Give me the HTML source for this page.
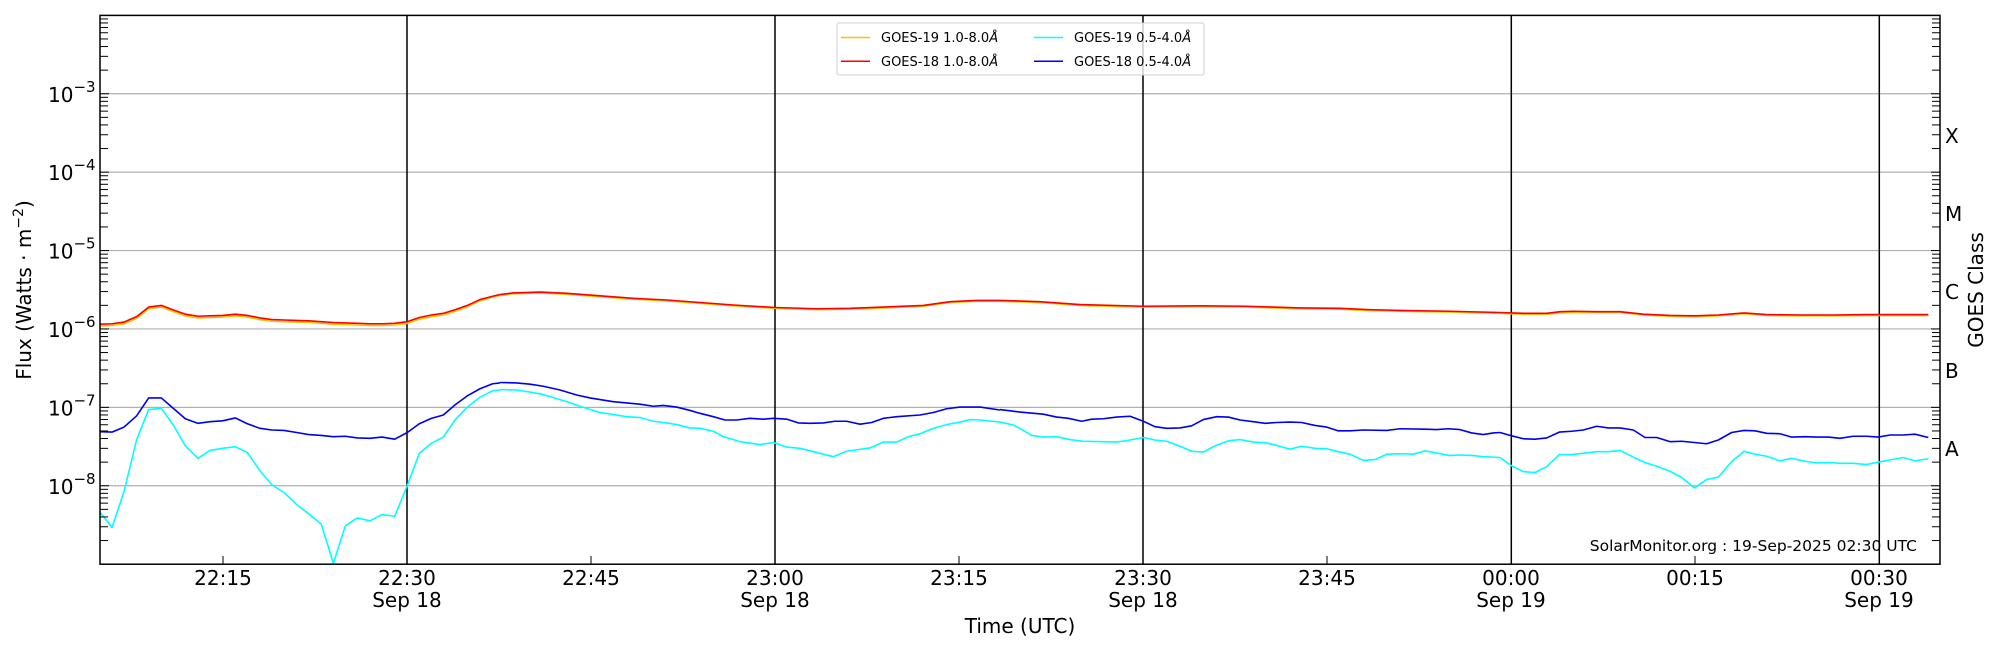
<!DOCTYPE html>
<html><head><meta charset="utf-8"><style>
html,body{margin:0;padding:0;background:#fff;width:2000px;height:650px;overflow:hidden}
svg text{font-family:"DejaVu Sans","Liberation Sans",sans-serif}
</style></head><body>
<svg width="2000" height="650" xmlns="http://www.w3.org/2000/svg">
<rect width="2000" height="650" fill="#fff"/>
<g id="grid" stroke="#b0b0b0" stroke-width="1.2"></g>
<g stroke="#000" stroke-width="1.5">
<line x1="407" y1="15.4" x2="407" y2="564.2"/>
<line x1="775" y1="15.4" x2="775" y2="564.2"/>
<line x1="1143" y1="15.4" x2="1143" y2="564.2"/>
<line x1="1511.3" y1="15.4" x2="1511.3" y2="564.2"/>
<line x1="1879.3" y1="15.4" x2="1879.3" y2="564.2"/>
</g>
<g fill="none" stroke-width="1.6" stroke-linejoin="round">
<g transform="translate(0,0) scale(0.33333,0.41667)">
<polyline vector-effect="non-scaling-stroke" stroke="#ffc000" points="300 782,336 781,372 777,410 764,446 741,484 737,520 748,556 758,594 763,630 762,668 761,706 758,742 761,780 767,816 771,852 772,890 773,926 774,964 776,1000 778,1036 779,1072 780,1110 781,1146 781,1184 780,1222 776,1258 766,1294 760,1330 756,1366 747,1402 736,1440 722,1478 713,1500 709"/>
<polyline vector-effect="non-scaling-stroke" stroke="#ff0000" points="300 778,336 777,372 773,410 760,446 737,484 733,520 744,556 754,594 759,630 758,668 757,706 754,742 757,780 763,816 767,852 768,890 769,926 770,964 772,1000 774,1036 775,1072 776,1110 777,1146 777,1184 776,1222 772,1258 762,1294 756,1330 752,1366 743,1402 733,1440 719,1478 711,1500 707"/>
<polyline vector-effect="non-scaling-stroke" stroke="#00ffff" points="300 1229,336 1266,372 1180,410 1055,446 983,484 980,520 1020,556 1070,594 1100,630 1081,668 1076,706 1072,742 1086,780 1130,816 1164,852 1182,890 1211,926 1233,964 1258,1000 1352,1036 1262,1072 1243,1110 1250,1146 1235,1184 1239,1222 1165,1258 1088,1294 1064,1330 1049,1366 1007,1402 977,1440 953,1478 938,1500 936"/>
<polyline vector-effect="non-scaling-stroke" stroke="#0000ee" points="300 1036,336 1037,372 1025,410 998,446 955,484 955,520 980,556 1005,594 1016,630 1012,668 1010,706 1003,742 1017,780 1028,816 1032,852 1033,890 1038,926 1043,964 1045,1000 1048,1036 1047,1072 1051,1110 1052,1146 1049,1184 1054,1222 1038,1258 1017,1294 1004,1330 996,1366 971,1402 950,1440 933,1478 921,1500 919"/>
</g>
<g transform="translate(500,0) scale(0.33333,0.41667)">
<polyline vector-effect="non-scaling-stroke" stroke="#ffc000" points="0 709,40 705,120 703,200 706,300 712,400 718,500 722,600 728,700 734,826 740,950 743,1050 742,1150 739,1270 735,1350 726,1430 723,1500 723"/>
<polyline vector-effect="non-scaling-stroke" stroke="#ff0000" points="0 707,40 703,120 701,200 704,300 710,400 716,500 720,600 726,700 732,826 738,950 741,1050 740,1150 737,1270 733,1350 724,1430 721,1500 721"/>
<polyline vector-effect="non-scaling-stroke" stroke="#00ffff" points="0 935,50 936,90 941,130 947,200 964,240 975,300 990,340 995,380 1000,420 1002,460 1011,500 1015,530 1019,570 1027,600 1028,640 1035,670 1048,720 1060,780 1067,820 1062,860 1073,900 1076,1000 1096,1040 1083,1110 1075,1150 1061,1190 1061,1225 1048,1260 1041,1300 1028,1340 1019,1380 1013,1410 1007,1440 1008,1500 1013"/>
<polyline vector-effect="non-scaling-stroke" stroke="#0000ee" points="0 918,50 919,90 922,130 927,180 936,230 948,270 955,300 959,340 964,380 967,420 970,460 975,490 973,530 977,570 985,600 992,640 1000,675 1008,710 1008,750 1004,790 1006,820 1004,860 1006,895 1015,930 1016,970 1015,1005 1011,1040 1011,1080 1018,1115 1014,1150 1004,1190 1000,1260 996,1300 990,1340 981,1380 977,1440 977,1500 984"/>
</g>
<g transform="translate(1000,0) scale(0.33333,0.41667)">
<polyline vector-effect="non-scaling-stroke" stroke="#ffc000" points="0 723,120 726,240 733,430 737,600 736,740 737,900 741,1020 742,1100 745,1200 747,1350 749,1500 752"/>
<polyline vector-effect="non-scaling-stroke" stroke="#ff0000" points="0 721,120 724,240 731,430 735,600 734,740 735,900 739,1020 740,1100 743,1200 745,1350 747,1500 750"/>
<polyline vector-effect="non-scaling-stroke" stroke="#00ffff" points="0 1013,40 1020,60 1028,95 1045,130 1049,170 1048,210 1055,250 1059,310 1060,350 1061,390 1056,430 1050,465 1056,500 1059,540 1071,575 1083,610 1085,645 1070,685 1058,720 1055,760 1061,800 1063,835 1070,870 1078,905 1071,945 1076,980 1077,1015 1084,1050 1090,1090 1105,1125 1103,1160 1090,1200 1089,1240 1090,1275 1082,1310 1087,1345 1093,1380 1092,1415 1093,1450 1096,1500 1098"/>
<polyline vector-effect="non-scaling-stroke" stroke="#0000ee" points="0 983,60 989,130 994,170 1001,205 1004,245 1011,275 1006,310 1005,350 1001,390 999,430 1011,465 1024,500 1028,540 1027,575 1022,610 1007,650 1000,685 1001,720 1008,760 1012,795 1016,830 1014,870 1013,905 1014,945 1021,980 1025,1015 1034,1050 1034,1090 1032,1160 1033,1200 1029,1275 1030,1310 1031,1345 1029,1380 1031,1415 1039,1450 1043,1480 1039,1500 1038"/>
</g>
<g transform="translate(1500,0) scale(0.33333,0.41667)">
<polyline vector-effect="non-scaling-stroke" stroke="#ffc000" points="0 752,70 754,140 754,180 751,220 750,290 750,360 750,430 756,510 759,583 760,655 758,732 753,800 757,900 758,1000 758,1100 757,1285 757"/>
<polyline vector-effect="non-scaling-stroke" stroke="#ff0000" points="0 750,70 752,140 752,180 748,220 747,290 748,360 748,430 754,510 757,583 758,655 756,732 751,800 755,900 756,1000 756,1100 755,1285 755"/>
<polyline vector-effect="non-scaling-stroke" stroke="#00ffff" points="0 1098,35 1118,70 1132,105 1134,140 1120,178 1091,215 1091,250 1088,290 1084,325 1084,360 1081,400 1097,435 1110,470 1119,510 1131,545 1146,583 1171,620 1151,655 1145,695 1108,732 1083,765 1090,800 1095,840 1106,875 1100,915 1107,950 1111,985 1110,1020 1112,1060 1112,1100 1115,1135 1109,1170 1104,1210 1098,1245 1106,1285 1101"/>
<polyline vector-effect="non-scaling-stroke" stroke="#0000ee" points="0 1038,35 1046,70 1053,105 1054,140 1051,178 1037,215 1035,250 1032,290 1023,325 1027,360 1027,400 1032,435 1050,470 1050,510 1060,545 1059,583 1062,620 1065,655 1056,695 1038,732 1033,765 1034,800 1040,840 1041,875 1049,915 1048,950 1049,985 1049,1020 1052,1060 1047,1100 1047,1135 1049,1170 1044,1210 1044,1245 1042,1285 1050"/>
</g>
</g>
<g id="ticks" stroke="#000" stroke-width="1"></g>
<rect x="100" y="15.4" width="1840" height="548.8" fill="none" stroke="#000" stroke-width="1.5"/>
<g stroke="#000" stroke-width="1">
<line x1="223" y1="564" x2="223" y2="556"/><line x1="591" y1="564" x2="591" y2="556"/><line x1="959" y1="564" x2="959" y2="556"/><line x1="1327" y1="564" x2="1327" y2="556"/><line x1="1695" y1="564" x2="1695" y2="556"/>
</g>
<rect x="837" y="23" width="367" height="52" rx="2" fill="#fff" fill-opacity="0.8" stroke="#d0d0d0" stroke-width="1"/>
<line x1="841" y1="37.5" x2="870" y2="37.5" stroke="#ffc000" stroke-width="1.5"/>
<line x1="841" y1="61.3" x2="870" y2="61.3" stroke="#ff0000" stroke-width="1.5"/>
<line x1="1034" y1="37.5" x2="1063" y2="37.5" stroke="#00ffff" stroke-width="1.5"/>
<line x1="1034" y1="61.3" x2="1063" y2="61.3" stroke="#0000ee" stroke-width="1.5"/>
<g font-size="13" fill="#000">
<text x="881" y="42">GOES-19 1.0-8.0<tspan font-style="italic">Å</tspan></text>
<text x="881" y="66">GOES-18 1.0-8.0<tspan font-style="italic">Å</tspan></text>
<text x="1074" y="42">GOES-19 0.5-4.0<tspan font-style="italic">Å</tspan></text>
<text x="1074" y="66">GOES-18 0.5-4.0<tspan font-style="italic">Å</tspan></text>
</g>
<g id="ylab" font-size="20" fill="#000"></g>
<g font-size="20" fill="#000" text-anchor="middle">
<text x="223" y="585">22:15</text>
<text x="407" y="585">22:30</text><text x="407" y="607">Sep 18</text>
<text x="591" y="585">22:45</text>
<text x="775" y="585">23:00</text><text x="775" y="607">Sep 18</text>
<text x="959" y="585">23:15</text>
<text x="1143" y="585">23:30</text><text x="1143" y="607">Sep 18</text>
<text x="1327" y="585">23:45</text>
<text x="1511" y="585">00:00</text><text x="1511" y="607">Sep 19</text>
<text x="1695" y="585">00:15</text>
<text x="1879" y="585">00:30</text><text x="1879" y="607">Sep 19</text>
<text x="1020" y="633">Time (UTC)</text>
</g>
<text transform="translate(31,290) rotate(-90)" font-size="20" text-anchor="middle">Flux (Watts · m<tspan dy="-8" font-size="14">−2</tspan><tspan dy="8">)</tspan></text>
<text transform="translate(1983,290) rotate(-90)" font-size="20" text-anchor="middle">GOES Class</text>
<g font-size="20" fill="#000">
<text x="1945" y="143">X</text><text x="1945" y="221">M</text><text x="1945" y="299">C</text><text x="1945" y="378">B</text><text x="1945" y="456">A</text>
</g>
<text x="1917" y="551" font-size="15.5" text-anchor="end">SolarMonitor.org : 19-Sep-2025 02:30 UTC</text>
</svg>
<script>
(function(){
var NS="http://www.w3.org/2000/svg";
function Y(e){return 93.75+(-3-e)*78.4;}
var g=document.getElementById('grid'),t=document.getElementById('ticks'),yl=document.getElementById('ylab');
function ln(p,x1,y1,x2,y2){var l=document.createElementNS(NS,'line');l.setAttribute('x1',x1);l.setAttribute('y1',y1);l.setAttribute('x2',x2);l.setAttribute('y2',y2);p.appendChild(l);}
for(var e=-8;e<=-3;e++){var y=Y(e);ln(g,100,y,1940,y);
 var tx=document.createElementNS(NS,'text');tx.setAttribute('x',48);tx.setAttribute('y',y+8);tx.textContent='10';
 var s=document.createElementNS(NS,'tspan');s.setAttribute('dy','-10');s.setAttribute('font-size','15');s.textContent='\u2212'+(-e);tx.appendChild(s);
 yl.appendChild(tx);}
for(var e=-9;e<-2;e++){for(var m=1;m<10;m++){var y=Y(e+Math.log10(m));if(y<15||y>564)continue;var L=m==1?9:8;
 ln(t,100,y,100+L,y);ln(t,1940,y,1940-L,y);}}
})();
</script>
</body></html>
